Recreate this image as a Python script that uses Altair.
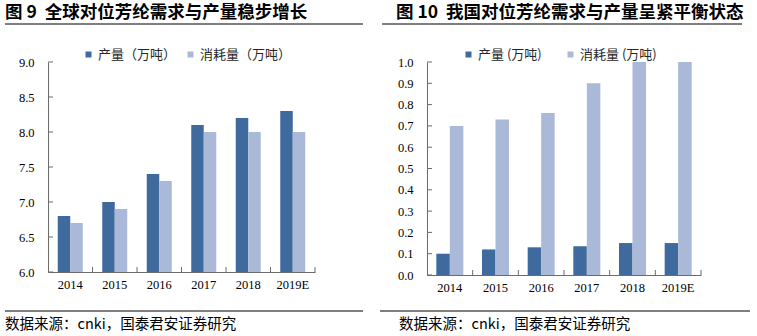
import altair as alt
import pandas as pd

years = ["2014", "2015", "2016", "2017", "2018", "2019E"]

global_prod = [6.8, 7.0, 7.4, 8.1, 8.2, 8.3]
global_cons = [6.7, 6.9, 7.3, 8.0, 8.0, 8.0]
global_series = ["产量（万吨）", "消耗量（万吨）"]
global_ticks = [6.0, 6.5, 7.0, 7.5, 8.0, 8.5, 9.0]

china_prod = [0.10, 0.12, 0.13, 0.135, 0.15, 0.15]
china_cons = [0.70, 0.73, 0.76, 0.90, 1.00, 1.00]
china_series = ["产量 (万吨)", "消耗量 (万吨)"]
china_ticks = [0.0, 0.1, 0.2, 0.3, 0.4, 0.5, 0.6, 0.7, 0.8, 0.9, 1.0]

NB = "\u00a0"
title_left = "图" + NB + "9" + NB * 2 + "全球对位芳纶需求与产量稳步增长"
title_right = "图" + NB + "10" + NB * 2 + "我国对位芳纶需求与产量呈紧平衡状态"
source_text = "数据来源：cnki，国泰君安证券研究"

DARK = "#3E6A9E"
LIGHT = "#A9B9D7"
AXIS = "#6b6b6b"
SERIF = "Liberation Serif"
CJK = "Noto Sans CJK SC"


def one(col="a"):
    return pd.DataFrame({col: [0]})


def panel(prod, cons, series, ticks, W, H, bar_w, title, title_x, title_size,
          legend_x, legend_gap, head_x, head_x2, foot_x, foot_x2, src_x, canvas=False):
    df = pd.DataFrame({
        "year": years * 2,
        "series": [series[0]] * len(years) + [series[1]] * len(years),
        "value": prod + cons,
    })
    step = W / len(years)
    xscale = alt.Scale(type="band", domain=years, paddingInner=0.4, paddingOuter=0.2)
    yscale = alt.Scale(domain=[ticks[0], ticks[-1]], nice=False, zero=False)
    xaxis = alt.Axis(title=None, ticks=False, tickSize=0, labelPadding=6,
                     labelAngle=0, labelFont=SERIF, labelFontSize=12.5,
                     labelColor="#000000", domainColor=AXIS, domainWidth=1, zindex=1)
    yaxis = alt.Axis(title=None, values=ticks, format=".1f", ticks=False,
                     tickSize=0, labelPadding=14, grid=False,
                     labelFont=SERIF, labelFontSize=12.5, labelColor="#000000",
                     domainColor=AXIS, domainWidth=1, zindex=1)
    color = alt.Color("series:N", sort=series,
                      scale=alt.Scale(domain=series, range=[DARK, LIGHT]),
                      legend=alt.Legend(orient="none", legendX=legend_x, legendY=-14,
                                        direction="horizontal", title=None,
                                        symbolType="square", symbolSize=36,
                                        symbolStrokeWidth=0, labelFont=CJK,
                                        labelFontSize=13, labelColor="#262626",
                                        labelOffset=3, columnPadding=legend_gap,
                                        gridAlign="none", padding=0, offset=0))
    base = alt.Chart(df).encode(
        x=alt.X("year:N", sort=years, scale=xscale, axis=xaxis),
        y=alt.Y("value:Q", scale=yscale, axis=yaxis),
        color=color,
    )
    bars_a = base.transform_filter(alt.datum.series == series[0]).mark_bar(
        clip=True, width=bar_w, xOffset=-bar_w / 2)
    bars_b = base.transform_filter(alt.datum.series == series[1]).mark_bar(
        clip=True, width=bar_w, xOffset=bar_w / 2)
    ytick = alt.Chart(pd.DataFrame({"value": ticks})).mark_rule(color=AXIS).encode(
        y=alt.Y("value:Q", scale=yscale, axis=yaxis), x=alt.value(0), x2=alt.value(5))
    xtick = alt.Chart(pd.DataFrame({"year": years})).mark_rule(
        color=AXIS, xOffset=step / 2).encode(
        x=alt.X("year:N", sort=years, scale=xscale, axis=xaxis),
        y=alt.value(H), y2=alt.value(H - 5))
    ttl = alt.Chart(pd.DataFrame({"t": [title]})).mark_text(
        align="left", baseline="alphabetic", font=CJK, fontSize=title_size,
        fontWeight="bold", color="#000000").encode(
        text="t:N", x=alt.value(title_x), y=alt.value(-44.5))
    head = alt.Chart(one()).mark_rule(color="#000000", strokeWidth=1.2).encode(
        x=alt.value(head_x), x2=alt.value(head_x2), y=alt.value(-38))
    foot = alt.Chart(one()).mark_rule(color="#000000", strokeWidth=1.2).encode(
        x=alt.value(foot_x), x2=alt.value(foot_x2), y=alt.value(249))
    src = alt.Chart(pd.DataFrame({"t": [source_text]})).mark_text(
        align="left", baseline="middle", font=CJK, fontSize=14.5,
        color="#000000").encode(text="t:N", x=alt.value(src_x), y=alt.value(263))
    layers = [bars_a, bars_b, ytick, xtick, ttl, head, foot, src]
    if canvas:
        bg = alt.Chart(one()).mark_rect(color="white").encode(
            x=alt.value(-48), x2=alt.value(709), y=alt.value(-62), y2=alt.value(274))
        layers = [bg] + layers
    return alt.layer(*layers).properties(width=W, height=H)


left = panel(global_prod, global_cons, global_series, global_ticks, 267, 210, 12.5,
             title_left, -43, 17.5, 34, 7, -43, 315, -43, 315, -43, canvas=True)
right = panel(china_prod, china_cons, china_series, china_ticks, 274, 213, 13.5,
              title_right, -31, 17.5, 35, 22, -45, 315, -47, 323, -28)

chart = alt.hconcat(left, right, spacing=112).resolve_scale(
    x="independent", y="independent", color="independent"
).resolve_legend(color="independent").properties(
    bounds="flush", padding=0, background="white"
).configure_view(stroke=None)

chart.save("out.html", embed_options={"renderer": "svg", "actions": False})
